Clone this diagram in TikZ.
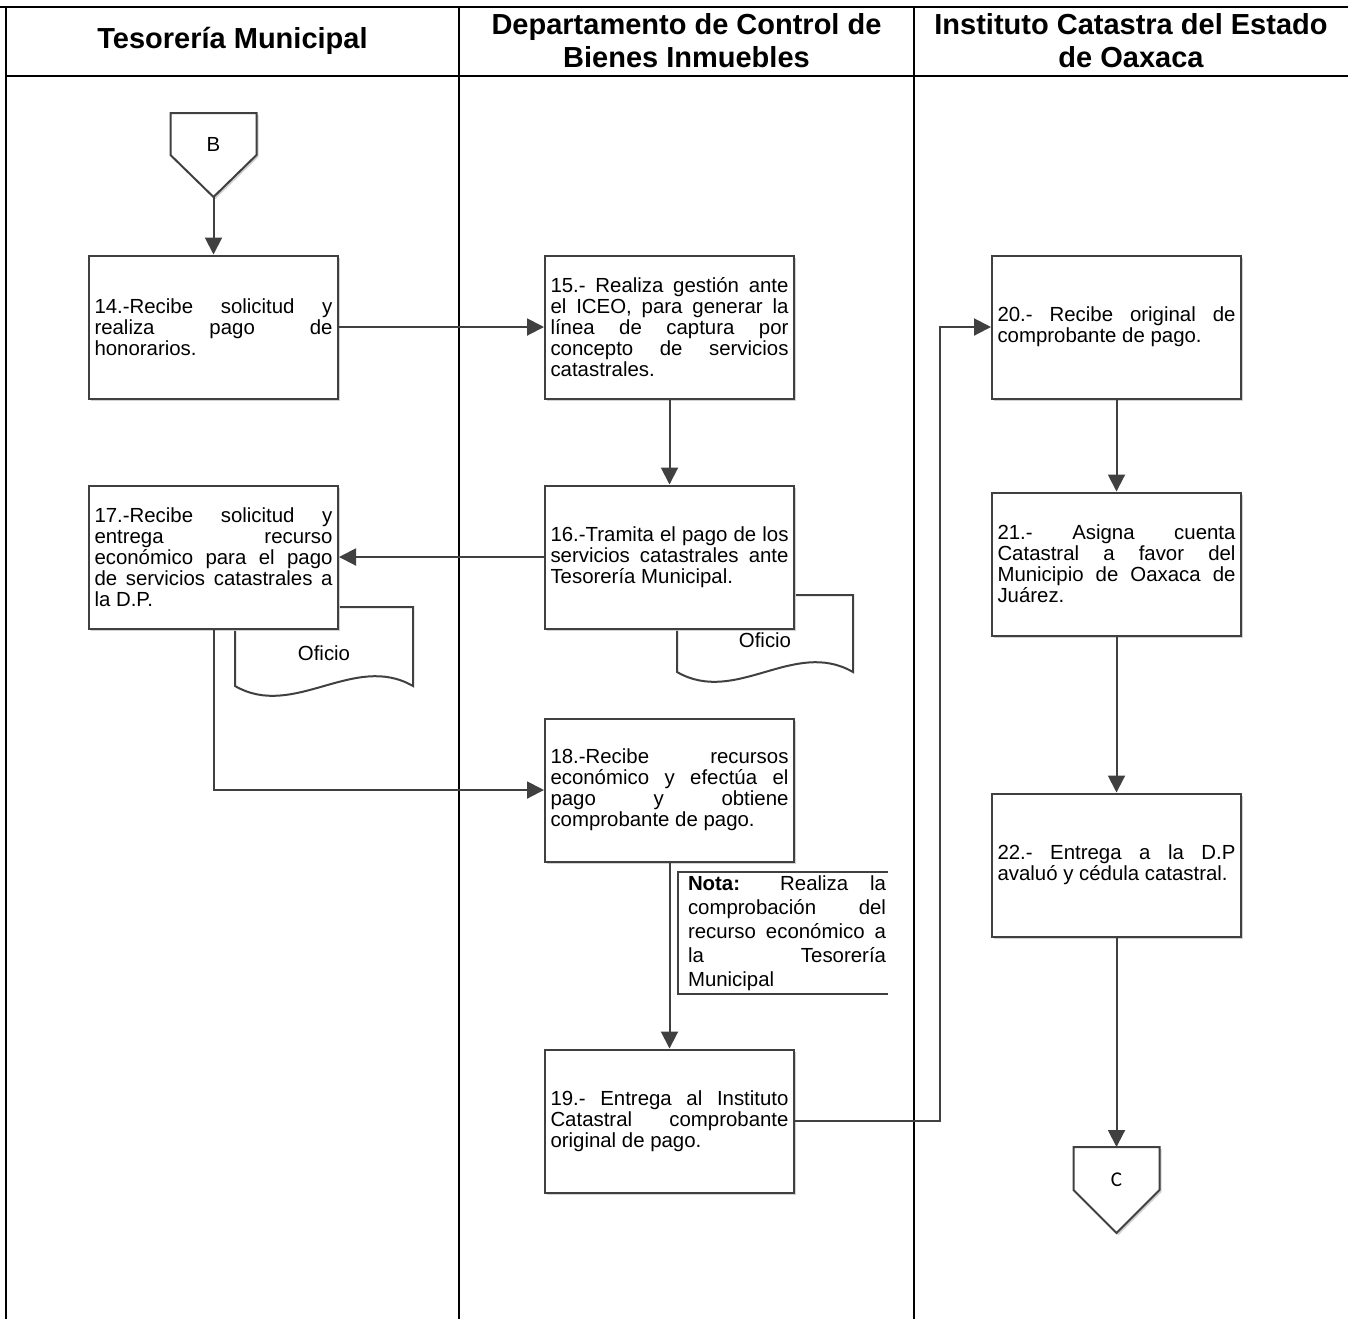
\documentclass[tikz,border=0pt]{standalone}
\usepackage{fontspec}
\setmainfont{Liberation Sans}
\newfontfamily\carlito{Carlito}
\usetikzlibrary{arrows.meta, positioning, shadows}
\definecolor{linegray}{RGB}{64,64,64}
\definecolor{shadowgray}{RGB}{205,205,205}
\newcommand{\boxfont}{\fontsize{10.2}{10.5}\selectfont
  \tolerance=10000 \hyphenpenalty=10000 \exhyphenpenalty=10000 }
\newcommand{\notafont}{\fontsize{10.2}{12}\selectfont
  \tolerance=10000 \hyphenpenalty=10000 \exhyphenpenalty=10000 }

\begin{document}
\begin{tikzpicture}[x=0.5pt, y=-0.5pt,
  lane/.style={line width=1.1pt, black},
  divider/.style={line width=0.9pt, black},
  head/.style={font=\fontsize{14.5}{16.5}\selectfont\bfseries, align=center},
  box/.style={rectangle, draw=linegray, line width=1pt, fill=white,
              minimum width=124.5pt, minimum height=71.5pt, text width=119pt,
              inner xsep=2.75pt, align=justify, font=\boxfont,
              drop shadow={shadow xshift=1pt, shadow yshift=-1pt, fill=shadowgray, opacity=0.9}},
  doc/.style={draw=linegray, line width=1pt, fill=white},
  offpage/.style={draw=linegray, line width=1pt, fill=white,
              drop shadow={shadow xshift=1pt, shadow yshift=-1pt, fill=shadowgray, opacity=0.9}},
  nota/.style={text width=99pt, inner sep=0pt, align=justify, font=\notafont},
  arrow/.style={-{Triangle[length=8.5pt, width=8.5pt]}, line width=1pt, draw=linegray}
]
\useasboundingbox (0,0) rectangle (1348,1319);

% swimlanes
\draw[lane] (0,7) -- (1348,7);
\draw[lane] (6,76) -- (1348,76);
\draw[lane] (6,7) -- (6,1319);
\draw[divider] (459,7) -- (459,1319);
\draw[divider] (914,7) -- (914,1319);

\node[head] (h1) at (232.5,41) {Tesorería Municipal};
\node[head] (h2) at (686.5,41) {Departamento de Control de\\Bienes Inmuebles};
\node[head] (h3) at (1131,41) {Instituto Catastra del Estado\\de Oaxaca};

% documents
\draw[doc] (677,672) -- (677,595) -- (853,595) -- (853,672)
  .. controls (794,638) and (736,706) .. (677,672) -- cycle;
\node[font=\boxfont] (of16) at (765,640) {Oficio};
\draw[doc] (235,686) -- (235,607) -- (413,607) -- (413,686)
  .. controls (354,652) and (294,720) .. (235,686) -- cycle;
\node[font=\boxfont] (of17) at (324,653) {Oficio};

% off-page connectors
\draw[offpage] (170.5,113) -- (256.5,113) -- (256.5,155) -- (213.5,197) -- (170.5,155) -- cycle;
\node[font=\boxfont] (B) at (213.5,144) {B};
\coordinate (Btip) at (213.5,197);
\draw[offpage] (1073.5,1147) -- (1159.5,1147) -- (1159.5,1190) -- (1116.5,1233) -- (1073.5,1190) -- cycle;
\node[font=\carlito\fontsize{10.5}{12}\selectfont] (C) at (1116.5,1180) {C};
\coordinate (Ctop) at (1116.5,1147);

% activities
\node[box] (t14) at (213.5,327)
  {14.-Recibe solicitud y\linebreak realiza pago de\linebreak honorarios.};
\node[box, right=102.5pt of t14] (t15)
  {15.- Realiza gestión ante\linebreak el ICEO, para generar la\linebreak línea de captura por\linebreak concepto de servicios\linebreak catastrales.};
\node[box, below=42.5pt of t15] (t16)
  {16.-Tramita el pago de los\linebreak servicios catastrales ante\linebreak Tesorería Municipal.};
\node[box, left=102.5pt of t16] (t17)
  {17.-Recibe solicitud y\linebreak entrega recurso\linebreak económico para el pago\linebreak de servicios catastrales a\linebreak la D.P.};
\node[box, below=44pt of t16] (t18)
  {18.-Recibe recursos\linebreak económico y efectúa el\linebreak pago y obtiene\linebreak comprobante de pago.};
\node[box, below=93pt of t18] (t19)
  {19.- Entrega al Instituto\linebreak Catastral comprobante\linebreak original de pago.};
\node[box] (t20) at (1116.5,327)
  {20.- Recibe original de\linebreak comprobante de pago.};
\node[box, below=46pt of t20] (t21)
  {21.- Asigna cuenta\linebreak Catastral a favor del\linebreak Municipio de Oaxaca de\linebreak Juárez.};
\node[box, below=78pt of t21] (t22)
  {22.- Entrega a la D.P\linebreak avaluó y cédula catastral.};

% note
\draw[doc, fill=none] (888,872) -- (678,872) -- (678,994) -- (888,994);
\node[nota] (nota) at (787,933)
  {\textbf{Nota:} Realiza la\linebreak comprobación del\linebreak recurso económico a\linebreak la Tesorería\linebreak Municipal};

% flow
\coordinate (bend) at (940,0);
\draw[arrow] (Btip) -- (Btip |- t14.north);
\draw[arrow] (t14.east) -- (t15.west);
\draw[arrow] (t15.south) -- (t16.north);
\draw[arrow] (t16.west) -- (t17.east);
\draw[arrow] (t17.south) |- (t18.west);
\draw[arrow] (t18.south) -- (t19.north);
\draw[arrow] (t19.east) -| (bend |- t20.west) -- (t20.west);
\draw[arrow] (t20.south) -- (t21.north);
\draw[arrow] (t21.south) -- (t22.north);
\draw[arrow] (t22.south) -- (Ctop);
\end{tikzpicture}
\end{document}
